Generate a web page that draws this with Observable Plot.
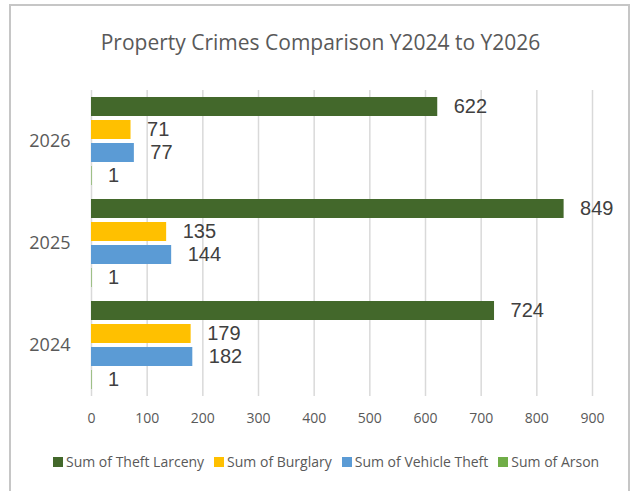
<!DOCTYPE html>
<html>
<head>
<meta charset="utf-8">
<script src="https://cdn.jsdelivr.net/npm/d3@7"></script>
<script src="https://cdn.jsdelivr.net/npm/@observablehq/plot@0.6"></script>
<style>
  html, body { margin: 0; padding: 0; background: #fff; }
  body { width: 637px; height: 491px; position: relative; overflow: hidden; font-family: "Open Sans", sans-serif; }
  #frame { position: absolute; left: 9px; top: 4px; width: 621px; height: 500px; border: 2px solid #c6c6c6; box-sizing: border-box; }
  #title { position: absolute; left: 9px; width: 623px; top: 29px; text-align: center; font-size: 21px; line-height: 26px; color: #595959; }
  #chart { position: absolute; left: 0; top: 80px; }
  #legend { position: absolute; left: 53px; top: 453px; display: flex; align-items: center; font-size: 14px; line-height: 18px; color: #595959; white-space: nowrap; }
  .item { display: flex; align-items: center; margin-right: 10px; }
  .sw { width: 10px; height: 10px; margin-right: 3px; }
</style>
</head>
<body>
<div id="frame"></div>
<div id="title">Property Crimes Comparison Y2024 to Y2026</div>
<div id="chart"></div>
<div id="legend"></div>
<script>
const years = ["2026", "2025", "2024"];
const series = ["Sum of Theft Larceny", "Sum of Burglary", "Sum of Vehicle Theft", "Sum of Arson"];
const theftLarceny = [622, 849, 724];
const burglary = [71, 135, 179];
const vehicleTheft = [77, 144, 182];
const arson = [1, 1, 1];
const colors = ["#43682b", "#ffc000", "#5b9bd5", "#70ad47"];
const xTicks = [0, 100, 200, 300, 400, 500, 600, 700, 800, 900];

const seriesValues = [theftLarceny, burglary, vehicleTheft, arson];
const rows = [];
years.forEach((year, i) => {
  series.forEach((s, j) => {
    rows.push({ year, series: s, value: seriesValues[j][i] });
  });
});

const chart = Plot.plot({
  width: 637,
  height: 350,
  marginLeft: 91,
  marginRight: 45,
  marginTop: 9,
  marginBottom: 34,
  style: { fontFamily: "Open Sans", fontSize: "14px", color: "#595959", background: "transparent" },
  x: { domain: [0, 900] },
  y: { domain: series, axis: null, paddingInner: 0.19, paddingOuter: 0.28 },
  fy: { domain: years, padding: 0 },
  color: { domain: series, range: colors },
  marks: [
    Plot.gridX(xTicks, { stroke: "#d9d9d9", strokeOpacity: 1, strokeWidth: 1.5 }),
    Plot.axisX({ ticks: xTicks, tickSize: 0, tickPadding: 17, label: null, fontSize: 14, fill: "#595959" }),
    Plot.axisFy({ anchor: "left", tickSize: 0, tickPadding: 21, label: null, fontSize: 18, fill: "#595959" }),
    Plot.barX(rows, { x: "value", y: "series", fy: "year", fill: "series" }),
    Plot.text(rows, { x: "value", y: "series", fy: "year", text: d => String(d.value), dx: 16, textAnchor: "start", fontSize: 20, fontFamily: "Liberation Sans", fill: "#404040" })
  ]
});
document.getElementById("chart").appendChild(chart);

const legend = document.getElementById("legend");
series.forEach((s, j) => {
  const item = document.createElement("div");
  item.className = "item";
  const sw = document.createElement("span");
  sw.className = "sw";
  sw.style.background = colors[j];
  const label = document.createElement("span");
  label.textContent = s;
  item.appendChild(sw);
  item.appendChild(label);
  legend.appendChild(item);
});
</script>
</body>
</html>
